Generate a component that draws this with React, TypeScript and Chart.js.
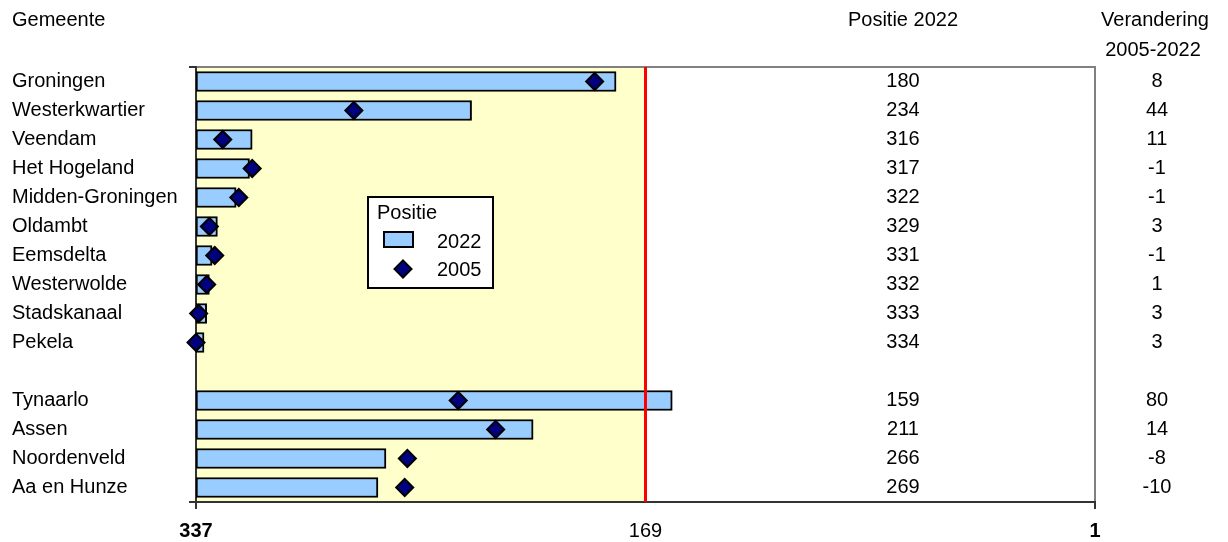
import React, { useEffect, useRef } from 'react';
import { Chart, registerables } from 'chart.js';

Chart.register(...registerables);

const categories = [
  'Groningen',
  'Westerkwartier',
  'Veendam',
  'Het Hogeland',
  'Midden-Groningen',
  'Oldambt',
  'Eemsdelta',
  'Westerwolde',
  'Stadskanaal',
  'Pekela',
  '',
  'Tynaarlo',
  'Assen',
  'Noordenveld',
  'Aa en Hunze',
];
const positie2022 = [180, 234, 316, 317, 322, 329, 331, 332, 333, 334, null, 159, 211, 266, 269];
const positie2005 = [188, 278, 327, 316, 321, 332, 330, 333, 336, 337, null, 239, 225, 258, 259];
const verandering = [8, 44, 11, -1, -1, 3, -1, 1, 3, 3, null, 80, 14, -8, -10];
const xTickValues = [337, 169, 1];
const axisMin = 1;
const axisMax = 337;
const medianPositie = 169;

const headerGemeente = 'Gemeente';
const headerPositie = 'Positie 2022';
const headerVerandering = ['Verandering', '2005-2022'];
const legendTitle = 'Positie';
const legendLabels = ['2022', '2005'];

const FONT = "'Liberation Sans', Arial, Helvetica, sans-serif";
const BAR_FILL = '#99CCFF';
const PLOT_YELLOW = '#FFFFCC';
const DIAMOND_FILL = '#000080';

const decorPlugin = {
  id: 'decor',
  beforeDraw(chart: any) {
    const { ctx, chartArea: a, scales } = chart;
    const x = scales.x;
    ctx.save();
    ctx.fillStyle = '#ffffff';
    ctx.fillRect(a.left, a.top, a.right - a.left, a.bottom - a.top);
    const x0 = x.getPixelForValue(axisMax);
    const x1 = x.getPixelForValue(medianPositie);
    ctx.fillStyle = PLOT_YELLOW;
    ctx.fillRect(x0, a.top, x1 - x0, a.bottom - a.top);
    ctx.strokeStyle = '#808080';
    ctx.lineWidth = 2;
    ctx.beginPath();
    ctx.moveTo(a.left, a.top);
    ctx.lineTo(a.right, a.top);
    ctx.lineTo(a.right, a.bottom);
    ctx.stroke();
    ctx.restore();
  },
  afterDatasetDraw(chart: any, args: any) {
    if (args.index !== 1) return;
    const { ctx, chartArea: a, scales } = chart;
    const xr = scales.x.getPixelForValue(medianPositie);
    ctx.save();
    ctx.strokeStyle = '#FF0000';
    ctx.lineWidth = 3;
    ctx.beginPath();
    ctx.moveTo(xr, a.top);
    ctx.lineTo(xr, a.bottom);
    ctx.stroke();
    ctx.restore();
  },
  afterDraw(chart: any) {
    const { ctx, scales } = chart;
    const y = scales.y;
    ctx.save();
    ctx.fillStyle = '#000000';
    ctx.font = `20px ${FONT}`;
    ctx.textBaseline = 'middle';

    // headers
    ctx.textAlign = 'left';
    ctx.fillText(headerGemeente, 12, 20);
    ctx.textAlign = 'center';
    ctx.fillText(headerPositie, 903, 20);
    ctx.fillText(headerVerandering[0], 1155, 20);
    ctx.fillText(headerVerandering[1], 1153, 50);

    // value columns
    categories.forEach((_, i) => {
      const py = y.getPixelForValue(i);
      const p = positie2022[i];
      const v = verandering[i];
      if (p != null) ctx.fillText(String(p), 903, py);
      if (v != null) ctx.fillText(String(v), 1157, py);
    });

    // legend box
    const lx = 368, ly = 197, lw = 125, lh = 91;
    ctx.fillStyle = '#ffffff';
    ctx.fillRect(lx, ly, lw, lh);
    ctx.strokeStyle = '#000000';
    ctx.lineWidth = 2;
    ctx.strokeRect(lx, ly, lw, lh);

    ctx.fillStyle = '#000000';
    ctx.textAlign = 'left';
    ctx.fillText(legendTitle, lx + 9, ly + 16);

    // bar swatch
    ctx.fillStyle = BAR_FILL;
    ctx.fillRect(lx + 16, ly + 35, 29, 15);
    ctx.strokeStyle = '#000000';
    ctx.strokeRect(lx + 16, ly + 35, 29, 15);
    ctx.fillStyle = '#000000';
    ctx.fillText(legendLabels[0], lx + 69, ly + 45);

    // diamond swatch
    const dx = lx + 35, dy = ly + 72, r = 8.5;
    ctx.beginPath();
    ctx.moveTo(dx, dy - r);
    ctx.lineTo(dx + r, dy);
    ctx.lineTo(dx, dy + r);
    ctx.lineTo(dx - r, dy);
    ctx.closePath();
    ctx.fillStyle = DIAMOND_FILL;
    ctx.fill();
    ctx.stroke();
    ctx.fillStyle = '#000000';
    ctx.fillText(legendLabels[1], lx + 69, ly + 73);

    ctx.restore();
  },
};

export default function App() {
  const canvasRef = useRef<HTMLCanvasElement | null>(null);

  useEffect(() => {
    if (!canvasRef.current) return;
    const chart = new Chart(canvasRef.current, {
      type: 'bar',
      data: {
        labels: categories,
        datasets: [
          {
            type: 'line',
            label: legendLabels[1],
            indexAxis: 'y',
            data: positie2005 as any,
            showLine: false,
            pointStyle: 'rectRot',
            pointRadius: 8.5,
            pointHoverRadius: 8.5,
            pointBackgroundColor: DIAMOND_FILL,
            pointBorderColor: '#000000',
            pointBorderWidth: 2,
            backgroundColor: DIAMOND_FILL,
            borderColor: '#000000',
            clip: false as any,
            order: 0,
          } as any,
          {
            type: 'bar',
            label: legendLabels[0],
            indexAxis: 'y',
            data: positie2022.map((v) => (v == null ? null : [axisMax, v])) as any,
            backgroundColor: BAR_FILL,
            borderColor: '#000000',
            borderWidth: 2,
            borderSkipped: false,
            barThickness: 20,
            order: 1,
          } as any,
        ],
      },
      options: {
        indexAxis: 'y',
        animation: false,
        responsive: true,
        maintainAspectRatio: false,
        events: [],
        layout: { padding: { left: 12, right: 133, top: 67, bottom: 0 } },
        plugins: {
          legend: { display: false },
          tooltip: { enabled: false },
          title: { display: false },
        },
        scales: {
          x: {
            type: 'linear',
            min: axisMin,
            max: axisMax,
            reverse: true,
            afterBuildTicks(scale: any) {
              scale.ticks = xTickValues.map((v) => ({ value: v }));
            },
            afterFit(scale: any) {
              scale.height = 40;
            },
            grid: {
              drawOnChartArea: false,
              drawTicks: true,
              tickLength: 7,
              lineWidth: 2,
              color: (ctx: any) =>
                ctx.tick && ctx.tick.value === medianPositie ? 'rgba(0,0,0,0)' : '#333333',
            },
            border: { display: true, color: '#333333', width: 2 },
            ticks: {
              autoSkip: false,
              maxRotation: 0,
              padding: 10,
              color: '#000000',
              font: (ctx: any) => ({
                family: FONT,
                size: 20,
                weight: ctx.tick && ctx.tick.value !== medianPositie ? 'bold' : 'normal',
              }),
              callback: (v: any) => String(v),
            },
          },
          y: {
            type: 'category',
            offset: true,
            afterFit(scale: any) {
              scale.width = 184;
            },
            grid: {
              offset: true,
              drawOnChartArea: false,
              drawTicks: true,
              tickLength: 7,
              lineWidth: 2,
              color: (ctx: any) =>
                ctx.type !== 'tick' || ctx.index === 0 ? '#333333' : 'rgba(0,0,0,0)',
            },
            border: { display: true, color: '#333333', width: 2 },
            ticks: {
              autoSkip: false,
              crossAlign: 'far',
              color: '#000000',
              font: { family: FONT, size: 20 },
            },
          },
        },
      },
      plugins: [decorPlugin],
    });
    return () => chart.destroy();
  }, []);

  return (
    <div style={{ position: 'absolute', left: 0, top: 0, width: 1228, height: 542, background: '#ffffff' }}>
      <canvas ref={canvasRef} />
    </div>
  );
}
